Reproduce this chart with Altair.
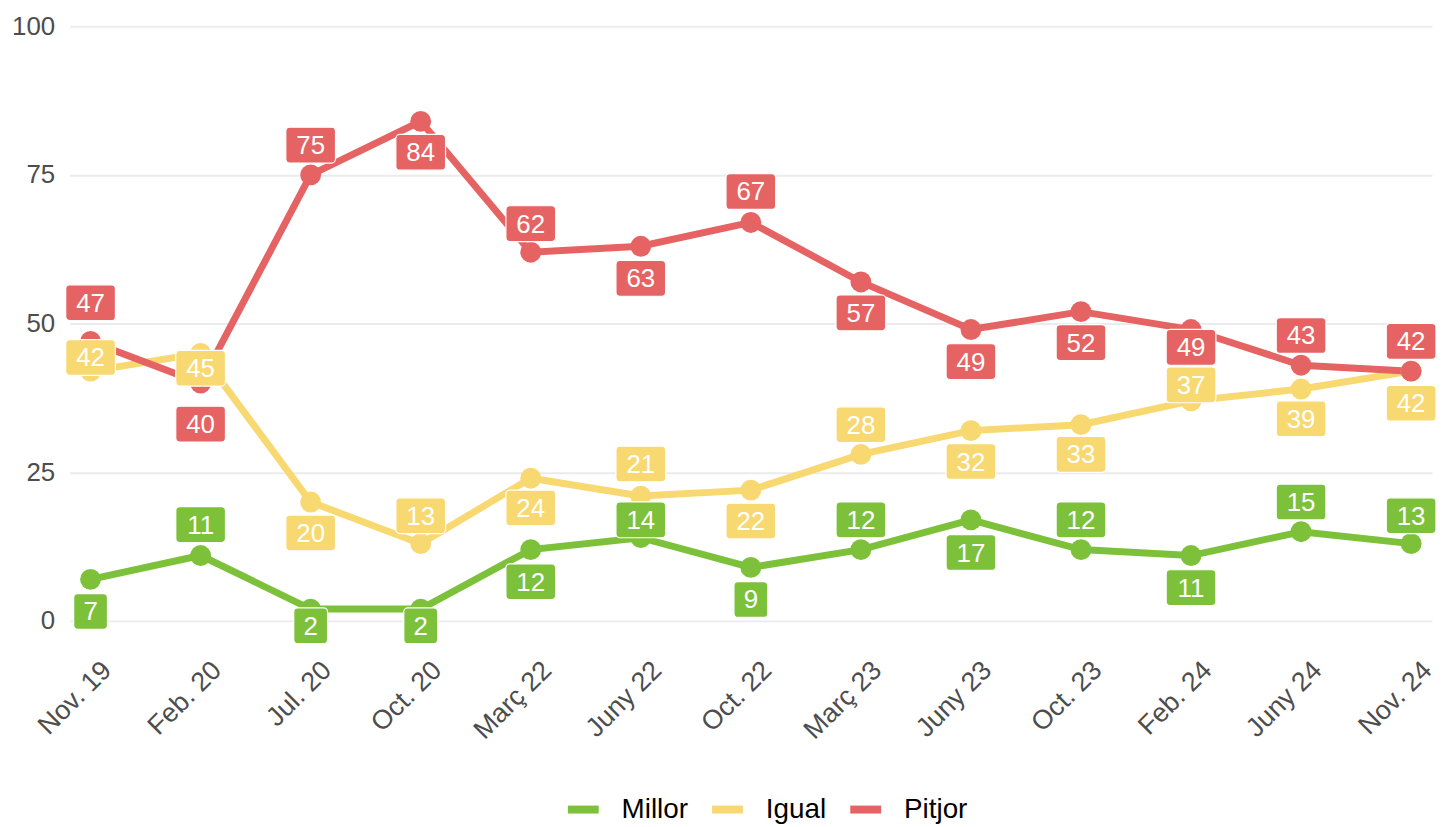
import altair as alt
import pandas as pd

dates = ["Nov. 19", "Feb. 20", "Jul. 20", "Oct. 20", "Març 22", "Juny 22", "Oct. 22",
         "Març 23", "Juny 23", "Oct. 23", "Feb. 24", "Juny 24", "Nov. 24"]
series = ["Millor", "Igual", "Pitjor"]
millor = [7, 11, 2, 2, 12, 14, 9, 12, 17, 12, 11, 15, 13]
igual = [42, 45, 20, 13, 24, 21, 22, 28, 32, 33, 37, 39, 42]
pitjor = [47, 40, 75, 84, 62, 63, 67, 57, 49, 52, 49, 43, 42]
# label nudges (in data units), like a repel layout
nudge_millor = [-5.4, 5.2, -2.8, -2.8, -5.4, 3.0, -5.4, 5.0, -5.5, 5.0, -5.4, 5.0, 4.7]
nudge_igual = [2.3, -2.5, -5.2, 4.7, -5.0, 5.4, -5.2, 5.0, -5.2, -5.0, 2.7, -5.0, -5.4]
nudge_pitjor = [6.5, -6.9, 5.0, -5.2, 4.8, -5.4, 5.2, -5.2, -5.4, -5.2, -3.0, 5.0, 5.0]
colors = ["#7DC13B", "#F8D870", "#E66363"]

rows = []
for s, vals, nud in zip(series, [millor, igual, pitjor], [nudge_millor, nudge_igual, nudge_pitjor]):
    for d, v, n in zip(dates, vals, nud):
        rows.append({"date": d, "serie": s, "value": v, "label_y": v + n,
                     "label": str(v), "ndig": len(str(v))})
df = pd.DataFrame(rows)

FONT = "Liberation Sans"

x = alt.X("date:N", sort=dates, scale=alt.Scale(type="point", padding=0.19),
          axis=alt.Axis(title=None, labelAngle=-45, labelAlign="right", labelBaseline="top",
                        labelFontSize=27, labelColor="#4D4D4D", labelFont=FONT,
                        ticks=False, domain=False, grid=False, labelPadding=12,
                        labelOffset=7))
y = alt.Y("value:Q", scale=alt.Scale(domain=[-4, 100], nice=False, zero=False),
          axis=alt.Axis(title=None, values=[0, 25, 50, 75, 100], labelFontSize=26,
                        labelColor="#4D4D4D", labelFont=FONT, ticks=False, domain=False,
                        gridColor="#EBEBEB", gridWidth=2, labelPadding=15))
color = alt.Color("serie:N", sort=series,
                  scale=alt.Scale(domain=series, range=colors),
                  legend=alt.Legend(title=None, orient="none", legendX=497, legendY=768,
                                    direction="horizontal", symbolType="stroke",
                                    symbolSize=961, symbolStrokeWidth=8,
                                    labelFontSize=28, labelFont=FONT, labelColor="#000000",
                                    labelOffset=19, columnPadding=8))

base = alt.Chart(df)
lcolor = alt.Color("serie:N", scale=alt.Scale(domain=series, range=colors), legend=None)
lines = base.mark_line(strokeWidth=7).encode(x=x, y=y, color=color, detail="serie:N")
points = base.mark_circle(size=440, opacity=1).encode(x=x, y=y, color=lcolor)

ly = alt.Y("label_y:Q")
box2 = base.transform_filter("datum.ndig == 2").mark_rect(
    width=50, height=36, cornerRadius=4, stroke="white", strokeWidth=1.2, opacity=1
).encode(x=alt.X("date:N", sort=dates), y=ly, color=lcolor)
box1 = base.transform_filter("datum.ndig == 1").mark_rect(
    width=34, height=36, cornerRadius=4, stroke="white", strokeWidth=1.2, opacity=1
).encode(x=alt.X("date:N", sort=dates), y=ly, color=lcolor)
text = base.mark_text(fontSize=26, font=FONT, color="white", baseline="middle", dy=1).encode(
    x=alt.X("date:N", sort=dates), y=ly, text="label:N")

chart = alt.layer(lines, points, box2, box1, text).properties(
    width=1370, height=622,
    autosize=alt.AutoSizeParams(type="none"),
    padding={"left": 62, "top": 16, "right": 5, "bottom": 186},
).configure(font=FONT).configure_view(stroke=None)

chart.save("out.html", embed_options={"renderer": "svg", "actions": False})
